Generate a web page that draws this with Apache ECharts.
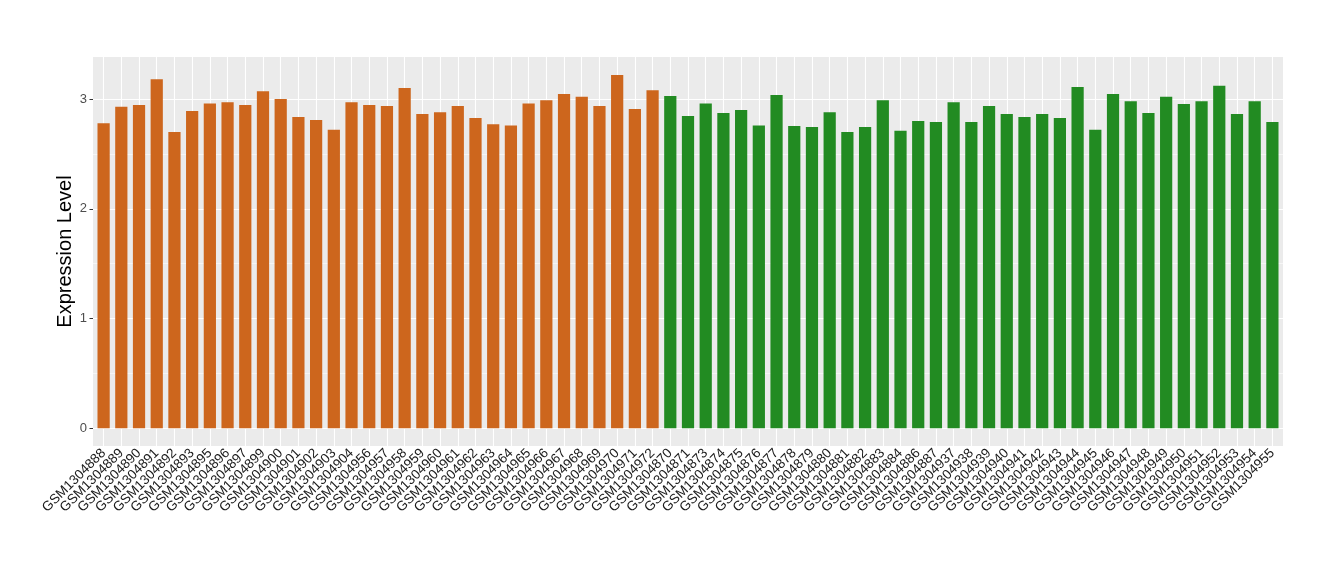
<!DOCTYPE html>
<html>
<head>
<meta charset="utf-8">
<script src="https://cdn.jsdelivr.net/npm/echarts@6/dist/echarts.min.js"></script>
<style>html,body{margin:0;padding:0;background:#fff}#c{width:1340px;height:580px}</style>
</head>
<body>
<div id="c"></div>
<script>
const groupACategories = ["GSM1304888","GSM1304889","GSM1304890","GSM1304891","GSM1304892","GSM1304893","GSM1304895","GSM1304896","GSM1304897","GSM1304899","GSM1304900","GSM1304901","GSM1304902","GSM1304903","GSM1304904","GSM1304956","GSM1304957","GSM1304958","GSM1304959","GSM1304960","GSM1304961","GSM1304962","GSM1304963","GSM1304964","GSM1304965","GSM1304966","GSM1304967","GSM1304968","GSM1304969","GSM1304970","GSM1304971","GSM1304972"];
const groupAValues = [2.78,2.93,2.945,3.18,2.70,2.89,2.96,2.97,2.945,3.07,3.00,2.836,2.81,2.72,2.97,2.945,2.936,3.10,2.864,2.88,2.936,2.827,2.77,2.76,2.96,2.99,3.045,3.02,2.936,3.22,2.91,3.08];
const groupBCategories = ["GSM1304870","GSM1304871","GSM1304873","GSM1304874","GSM1304875","GSM1304876","GSM1304877","GSM1304878","GSM1304879","GSM1304880","GSM1304881","GSM1304882","GSM1304883","GSM1304884","GSM1304886","GSM1304887","GSM1304937","GSM1304938","GSM1304939","GSM1304940","GSM1304941","GSM1304942","GSM1304943","GSM1304944","GSM1304945","GSM1304946","GSM1304947","GSM1304948","GSM1304949","GSM1304950","GSM1304951","GSM1304952","GSM1304953","GSM1304954","GSM1304955"];
const groupBValues = [3.027,2.845,2.96,2.873,2.90,2.76,3.036,2.755,2.745,2.88,2.70,2.745,2.99,2.71,2.80,2.79,2.97,2.79,2.936,2.864,2.836,2.864,2.827,3.11,2.72,3.045,2.98,2.873,3.02,2.955,2.98,3.12,2.864,2.98,2.79];
const yTicks = [0,1,2,3];
const yMinorGrid = [0.5,1.5,2.5];
const colorA = '#CD661D';
const colorB = '#228B22';

const categories = groupACategories.concat(groupBCategories);
const barData = groupAValues.map(v => ({value: v, itemStyle: {color: colorA}}))
  .concat(groupBValues.map(v => ({value: v, itemStyle: {color: colorB}})));

const hLines = [];
yTicks.forEach(v => hLines.push({yAxis: v, lineStyle: {width: 1.1}}));
yMinorGrid.forEach(v => hLines.push({yAxis: v, lineStyle: {width: 0.55}}));
const vLines = categories.map(c => ({xAxis: c, lineStyle: {width: 1.1}}));

const yMin = -0.161, yMax = 3.383;
const font = 'Liberation Sans, Arial, sans-serif';
const lineMark = data => ({
  silent: true,
  symbol: ['none','none'],
  label: {show: false},
  lineStyle: {color: '#ffffff', type: 'solid'},
  emphasis: {disabled: true},
  data: data
});

const chart = echarts.init(document.getElementById('c'), null, {renderer: 'canvas'});
chart.setOption({
  animation: false,
  backgroundColor: '#ffffff',
  grid: [
    {left: 93, right: 57, top: 57, bottom: 134, show: true, backgroundColor: '#EBEBEB', borderWidth: 0},
    {left: 94.75, right: 58.75, top: 57, bottom: 134, show: false}
  ],
  xAxis: [
    {type: 'value', gridIndex: 0, show: false, min: 0, max: 1},
    {
      type: 'category',
      gridIndex: 1,
      data: categories,
      axisLine: {show: false},
      axisTick: {show: true, alignWithLabel: true, length: 4, lineStyle: {color: '#333333', width: 1}},
      axisLabel: {rotate: 45, interval: 0, fontSize: 13.5, color: '#1a1a1a', fontFamily: font, margin: 5},
      splitLine: {show: false}
    }
  ],
  yAxis: [
    {
      type: 'value',
      gridIndex: 0,
      min: yMin,
      max: yMax,
      name: 'Expression Level',
      nameLocation: 'middle',
      nameGap: 18,
      nameMoveOverlap: false,
      nameTextStyle: {fontSize: 20, color: '#000', fontFamily: font},
      axisLine: {show: false},
      axisTick: {show: true, customValues: yTicks, length: 3.5, lineStyle: {color: '#333333', width: 1}},
      axisLabel: {customValues: yTicks, fontSize: 13, color: '#4D4D4D', fontFamily: font, margin: 6},
      splitLine: {show: false}
    },
    {type: 'value', gridIndex: 1, min: yMin, max: yMax, show: false}
  ],
  series: [
    {
      type: 'line', xAxisIndex: 0, yAxisIndex: 0, data: [], z: 1, silent: true,
      markLine: lineMark(hLines)
    },
    {
      type: 'line', xAxisIndex: 1, yAxisIndex: 1, data: [], z: 1, silent: true,
      markLine: lineMark(vLines)
    },
    {
      type: 'bar',
      xAxisIndex: 1,
      yAxisIndex: 1,
      data: barData,
      barWidth: '69%',
      zlevel: 1,
      z: 2
    }
  ]
});
</script>
</body>
</html>
